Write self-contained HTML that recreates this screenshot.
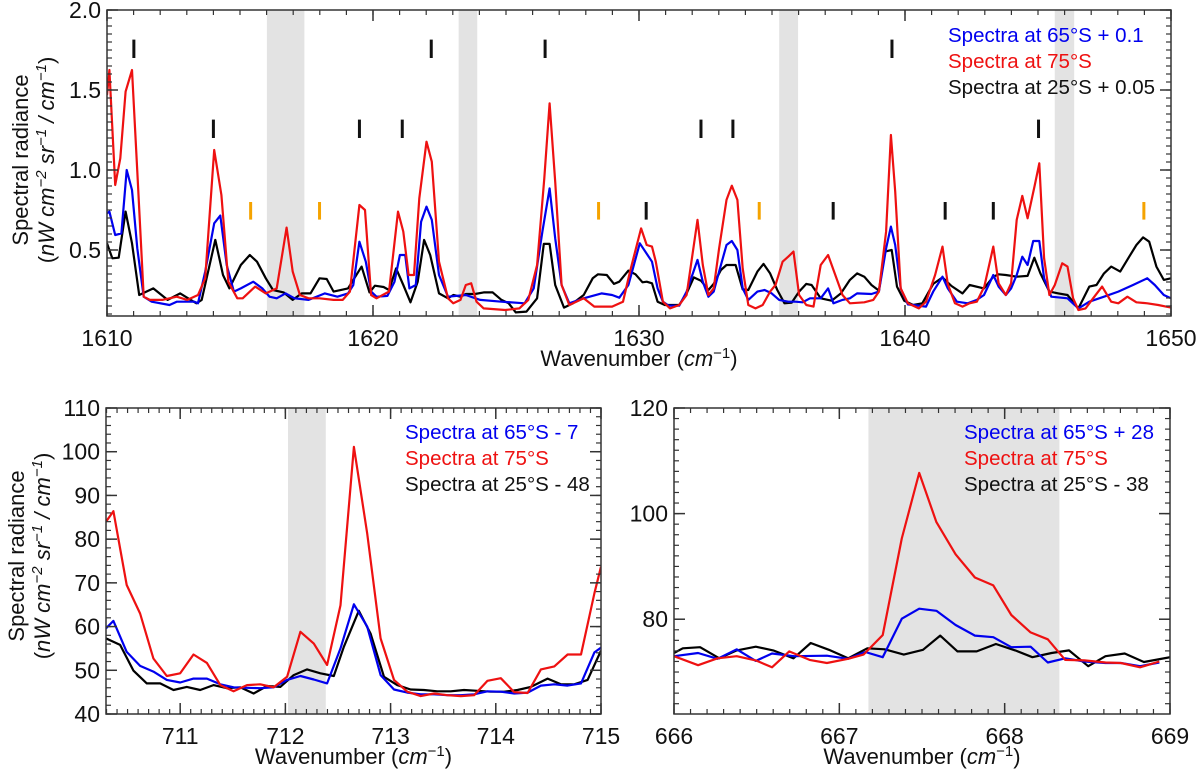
<!DOCTYPE html>
<html><head><meta charset="utf-8">
<style>
html,body{margin:0;padding:0;background:#fff;}
svg{display:block;font-family:"Liberation Sans","DejaVu Sans",sans-serif;}
</style></head>
<body>
<svg id="fig" width="1200" height="771" viewBox="0 0 1200 771" xmlns="http://www.w3.org/2000/svg"></svg>
<script>
// ---- Top panel data ----
const topRedX=[1610.00,1610.09,1610.31,1610.50,1610.70,1610.94,1611.14,1611.38,1611.61,1612.08,1612.62,1613.02,1613.42,1613.69,1614.03,1614.30,1614.56,1614.90,1615.10,1615.57,1615.97,1616.38,1616.75,1616.98,1617.25,1617.58,1617.99,1618.52,1618.86,1619.13,1619.49,1619.70,1619.93,1620.13,1620.60,1620.94,1621.14,1621.34,1621.54,1621.74,1622.01,1622.21,1622.48,1622.82,1623.02,1623.29,1623.49,1623.69,1623.89,1624.16,1624.97,1625.50,1625.84,1626.17,1626.44,1626.64,1626.85,1627.09,1627.38,1627.92,1628.32,1628.99,1629.40,1629.66,1630.08,1630.29,1630.49,1630.63,1630.90,1631.17,1631.51,1631.79,1632.20,1632.40,1632.61,1632.81,1633.01,1633.29,1633.49,1633.70,1633.90,1634.11,1634.38,1634.65,1634.93,1635.13,1635.40,1635.61,1635.81,1636.02,1636.29,1636.56,1636.83,1637.11,1637.38,1637.65,1637.93,1638.47,1638.81,1639.02,1639.29,1639.47,1639.63,1639.84,1640.11,1640.52,1640.79,1641.13,1641.41,1641.61,1641.88,1642.16,1642.43,1642.70,1642.98,1643.32,1643.52,1643.79,1643.99,1644.20,1644.41,1644.61,1644.88,1645.05,1645.23,1645.43,1645.63,1645.91,1646.11,1646.32,1646.52,1646.79,1647.07,1647.41,1647.75,1648.02,1648.36,1648.70,1649.11,1649.52,1650.00];
const topRedY=[1.469,1.625,0.906,1.073,1.490,1.625,0.990,0.208,0.188,0.188,0.208,0.188,0.219,0.323,1.125,0.844,0.302,0.198,0.198,0.271,0.229,0.260,0.640,0.365,0.219,0.198,0.198,0.188,0.188,0.240,0.781,0.750,0.219,0.198,0.240,0.740,0.615,0.344,0.344,0.823,1.177,1.052,0.427,0.198,0.167,0.188,0.281,0.292,0.177,0.135,0.125,0.135,0.188,0.406,0.948,1.417,0.927,0.281,0.156,0.198,0.146,0.146,0.177,0.365,0.635,0.531,0.521,0.427,0.177,0.135,0.156,0.219,0.688,0.406,0.219,0.260,0.510,0.813,0.902,0.813,0.385,0.156,0.135,0.156,0.240,0.281,0.427,0.458,0.490,0.219,0.156,0.146,0.406,0.469,0.344,0.219,0.167,0.173,0.188,0.240,0.615,1.219,0.865,0.260,0.167,0.135,0.177,0.344,0.521,0.286,0.167,0.146,0.167,0.177,0.271,0.521,0.292,0.219,0.292,0.688,0.838,0.698,0.906,1.042,0.448,0.219,0.281,0.417,0.396,0.198,0.125,0.135,0.198,0.271,0.177,0.167,0.208,0.173,0.167,0.156,0.140];
const topBlueX=[1610.00,1610.09,1610.31,1610.54,1610.74,1610.94,1611.14,1611.38,1611.68,1612.35,1612.62,1613.29,1613.42,1613.69,1614.03,1614.26,1614.50,1614.77,1615.03,1615.50,1615.84,1616.11,1616.38,1616.71,1617.05,1617.58,1618.19,1618.66,1619.06,1619.26,1619.49,1619.73,1619.93,1620.13,1620.54,1620.81,1621.01,1621.21,1621.37,1621.61,1621.81,1622.01,1622.21,1622.48,1622.82,1623.49,1624.03,1624.83,1625.70,1626.04,1626.37,1626.64,1626.85,1627.09,1627.38,1627.92,1628.59,1628.99,1629.26,1629.60,1630.03,1630.49,1630.70,1630.90,1631.11,1631.51,1631.79,1632.20,1632.40,1632.61,1632.81,1633.01,1633.29,1633.49,1633.70,1633.90,1634.11,1634.45,1634.72,1634.99,1635.27,1635.61,1635.88,1636.15,1636.43,1636.83,1637.11,1637.31,1637.65,1637.93,1638.20,1638.74,1639.02,1639.29,1639.47,1639.63,1639.84,1640.11,1640.79,1641.06,1641.41,1641.61,1641.95,1642.36,1642.70,1642.97,1643.32,1643.52,1643.79,1643.99,1644.20,1644.41,1644.61,1644.82,1645.05,1645.23,1645.50,1646.11,1646.52,1646.93,1647.48,1648.02,1648.57,1649.11,1649.39,1649.73,1650.00];
const topBlueY=[0.729,0.740,0.594,0.604,1.000,0.875,0.510,0.208,0.177,0.156,0.177,0.177,0.167,0.365,0.667,0.715,0.406,0.240,0.260,0.302,0.260,0.208,0.198,0.229,0.198,0.188,0.229,0.208,0.229,0.281,0.552,0.427,0.240,0.208,0.213,0.302,0.469,0.469,0.260,0.281,0.677,0.771,0.688,0.344,0.208,0.219,0.188,0.177,0.167,0.260,0.615,0.885,0.573,0.281,0.167,0.198,0.229,0.219,0.202,0.281,0.542,0.427,0.260,0.177,0.152,0.152,0.240,0.438,0.302,0.208,0.240,0.365,0.531,0.556,0.500,0.260,0.188,0.240,0.250,0.229,0.188,0.177,0.177,0.173,0.198,0.198,0.260,0.167,0.188,0.198,0.229,0.225,0.240,0.510,0.646,0.531,0.260,0.160,0.146,0.240,0.333,0.260,0.177,0.167,0.188,0.219,0.344,0.271,0.219,0.260,0.344,0.458,0.406,0.556,0.556,0.323,0.208,0.198,0.135,0.177,0.208,0.240,0.281,0.323,0.281,0.219,0.198];
const topBlackX=[1610.00,1610.20,1610.44,1610.70,1610.94,1611.21,1611.74,1612.28,1612.75,1613.15,1613.36,1613.56,1614.07,1614.36,1614.60,1615.03,1615.37,1615.64,1615.97,1616.24,1616.64,1616.98,1617.32,1617.65,1617.99,1618.26,1618.52,1619.06,1619.57,1619.87,1620.07,1620.40,1620.60,1620.87,1621.14,1621.41,1621.68,1621.92,1622.15,1622.48,1622.82,1623.02,1623.29,1623.49,1623.83,1624.16,1624.50,1624.83,1625.10,1625.37,1625.77,1626.17,1626.42,1626.64,1626.85,1627.18,1627.52,1627.92,1628.26,1628.46,1628.79,1629.06,1629.26,1629.60,1629.87,1630.13,1630.29,1630.49,1630.70,1630.97,1631.51,1631.79,1632.06,1632.33,1632.61,1632.81,1633.08,1633.29,1633.63,1633.90,1634.11,1634.45,1634.68,1634.93,1635.20,1635.47,1635.74,1636.02,1636.29,1636.49,1636.83,1637.24,1637.59,1637.93,1638.20,1638.47,1638.74,1639.02,1639.25,1639.50,1639.70,1639.97,1640.31,1640.65,1641.06,1641.41,1641.75,1642.16,1642.43,1642.97,1643.32,1643.52,1643.79,1644.20,1644.61,1644.86,1645.09,1645.43,1645.77,1646.11,1646.52,1646.93,1647.20,1647.48,1647.75,1648.09,1648.43,1648.70,1648.95,1649.18,1649.45,1649.73,1650.00];
const topBlackY=[0.542,0.448,0.452,0.740,0.542,0.219,0.260,0.188,0.229,0.188,0.167,0.188,0.563,0.344,0.260,0.406,0.469,0.427,0.323,0.250,0.235,0.188,0.229,0.229,0.323,0.319,0.240,0.260,0.396,0.235,0.277,0.269,0.250,0.385,0.281,0.173,0.302,0.563,0.469,0.229,0.198,0.219,0.208,0.225,0.225,0.235,0.235,0.188,0.167,0.110,0.115,0.198,0.538,0.538,0.281,0.140,0.167,0.219,0.323,0.348,0.344,0.288,0.302,0.371,0.348,0.298,0.302,0.292,0.177,0.156,0.156,0.229,0.329,0.308,0.250,0.288,0.375,0.406,0.406,0.254,0.250,0.365,0.413,0.354,0.250,0.167,0.171,0.240,0.288,0.281,0.198,0.183,0.229,0.313,0.354,0.333,0.281,0.246,0.490,0.500,0.271,0.183,0.156,0.167,0.288,0.329,0.275,0.229,0.281,0.260,0.333,0.348,0.344,0.333,0.338,0.452,0.354,0.240,0.229,0.219,0.135,0.271,0.281,0.354,0.396,0.365,0.458,0.531,0.579,0.552,0.396,0.313,0.323];
const topBandStart=[1616.01,1623.22,1635.27,1645.63];
const topBandEnd=[1617.42,1623.92,1635.98,1646.36];
const markHighX=[1611.01,1622.19,1626.47,1639.51];
const markMidX=[1614.0,1619.49,1621.1,1632.33,1633.53,1645.02];
const markLowX=[1630.27,1637.3,1641.51,1643.32];
const markOrangeX=[1615.4,1617.99,1628.48,1634.52,1648.98];
const topXTicks=[1610,1620,1630,1640,1650];
const topYTicks=[0.5,1.0,1.5,2.0];
const topYTickLabels=["0.5","1.0","1.5","2.0"];

// ---- Bottom-left (711-715) data ----
const blX=[710.295,710.365,710.492,710.619,710.746,710.873,711.0,711.127,711.254,711.381,711.508,711.635,711.762,711.889,712.016,712.143,712.27,712.397,712.524,712.651,712.778,712.905,713.032,713.159,713.286,713.413,713.54,713.667,713.794,713.921,714.048,714.175,714.302,714.429,714.556,714.683,714.81,714.937,715.0];
const blRedY=[84.0,86.4,69.5,63.0,52.7,48.7,49.3,53.6,51.7,46.6,45.2,46.6,46.8,46.1,48.5,58.8,56.1,51.2,64.9,101.1,81.3,57.3,47.8,45.1,44.1,44.7,44.3,44.1,44.3,47.6,48.2,45.0,44.8,50.2,50.9,53.6,53.6,67.6,73.7];
const blBlueY=[59.6,61.3,54.2,51.0,49.7,47.8,47.2,48.1,48.1,46.8,46.1,46.0,45.9,46.1,47.8,48.7,47.9,47.0,55.0,65.1,60.0,48.9,45.6,44.9,44.5,44.5,44.3,44.3,44.5,45.2,45.1,44.7,44.9,46.5,46.8,46.5,47.0,54.1,55.2];
const blBlackX=[710.295,710.429,710.556,710.683,710.81,710.937,711.063,711.19,711.317,711.444,711.571,711.698,711.825,711.952,712.079,712.206,712.333,712.46,712.556,712.698,712.81,712.937,713.063,713.19,713.317,713.444,713.571,713.698,713.825,713.952,714.079,714.206,714.333,714.492,714.619,714.746,714.873,715.0];
const blBlackY=[57.3,55.8,49.9,47.0,47.0,45.5,46.2,45.5,46.6,45.9,46.1,44.7,46.4,46.2,48.9,50.2,49.3,48.7,55.4,63.6,58.4,48.5,46.6,45.6,45.5,45.2,45.2,45.5,45.3,45.1,45.1,45.5,46.2,48.1,46.8,46.8,47.8,54.5];
const blBand=[712.025,712.384];
const blXTicks=[711,712,713,714,715];
const blYTicks=[40,50,60,70,80,90,100,110];

// ---- Bottom-right (666-669) data ----
const brRedX=[666.0,666.146,666.263,666.379,666.495,666.593,666.697,666.82,666.925,667.053,667.146,667.262,667.378,667.483,667.587,667.703,667.82,667.931,668.04,668.157,668.261,668.366,668.482,668.61,668.703,668.819,668.935];
const brRedY=[73.0,71.3,72.6,73.0,72.2,70.9,73.9,72.3,71.7,72.5,73.3,77.0,95.3,107.7,98.4,92.3,87.9,86.4,80.8,77.5,76.2,72.3,72.2,71.8,71.7,70.9,72.0];
const brBlueX=[666.0,666.146,666.263,666.379,666.495,666.593,666.727,666.925,667.053,667.157,667.262,667.378,667.483,667.587,667.703,667.82,667.931,668.04,668.157,668.261,668.366,668.482,668.61,668.703,668.819,668.935];
const brBlueY=[73.0,73.6,72.5,74.3,72.1,73.5,73.0,73.1,72.5,73.8,72.8,80.1,82.0,81.6,78.9,76.9,76.6,74.7,74.8,71.8,72.6,72.0,71.7,71.7,71.1,71.8];
const brBlackX=[666.0,666.053,666.158,666.274,666.379,666.495,666.6,666.723,666.827,666.937,667.053,667.169,667.274,667.39,667.506,667.61,667.715,667.831,667.947,668.064,668.168,668.284,668.389,668.505,668.61,668.726,668.842,669.0];
const brBlackY=[73.6,74.5,74.7,72.6,74.1,74.8,74.1,72.6,75.5,74.2,72.6,74.5,74.3,73.3,74.2,76.9,73.9,73.9,75.3,74.1,72.8,73.6,74.1,71.1,73.0,73.5,71.9,72.8];
const brBand=[667.176,668.331];
const brXTicks=[666,667,668,669];
const brYTicks=[80,100,120];

const NS="http://www.w3.org/2000/svg";
const svg=document.getElementById('fig');
function mk(tag,attrs,parent){const e=document.createElementNS(NS,tag);for(const k in attrs)e.setAttribute(k,attrs[k]);(parent||svg).appendChild(e);return e;}

function panel(name,box,xr,yr){
  const g=mk('g',{});
  
  
  const sx=v=>box.x0+(v-xr[0])/(xr[1]-xr[0])*(box.x1-box.x0);
  const sy=v=>box.y1-(v-yr[0])/(yr[1]-yr[0])*(box.y1-box.y0);
  const clipId='clip-'+name;
  const cp=mk('clipPath',{id:clipId},g);
  mk('rect',{x:box.x0,y:box.y0,width:box.x1-box.x0,height:box.y1-box.y0},cp);
  return {g,sx,sy,clipId,box,xr,yr};
}
function band(p,a,b,name){
  const r=mk('rect',{x:p.sx(a),y:p.box.y0,width:p.sx(b)-p.sx(a),height:p.box.y1-p.box.y0,fill:'#e3e3e3'},p.g);
  
  
}
function line(p,xs,ys,color,name){
  const d=xs.map((x,i)=>(i?'L':'M')+p.sx(x).toFixed(1)+','+p.sy(ys[i]).toFixed(1)).join('');
  const e=mk('path',{d:d,fill:'none',stroke:color,'stroke-width':2.2,'stroke-linejoin':'round','clip-path':'url(#'+p.clipId+')'},p.g);
  
  
}
function axes(p,xMaj,xMinStep,yMaj,yLabels,yMinStep){
  const b=p.box,g=p.g,c='#333';
  const fr=mk('rect',{x:b.x0,y:b.y0,width:b.x1-b.x0,height:b.y1-b.y0,fill:'none',stroke:c,'stroke-width':1.5},g);
  
  
  const eps=1e-6;
  for(let v=Math.ceil(p.xr[0]/xMinStep-eps)*xMinStep;v<=p.xr[1]+eps;v+=xMinStep){
    const x=p.sx(v);
    mk('line',{x1:x,x2:x,y1:b.y1,y2:b.y1-5,stroke:c,'stroke-width':1.2},g);
    mk('line',{x1:x,x2:x,y1:b.y0,y2:b.y0+5,stroke:c,'stroke-width':1.2},g);
  }
  for(let v=Math.ceil(p.yr[0]/yMinStep-eps)*yMinStep;v<=p.yr[1]+eps;v+=yMinStep){
    const y=p.sy(v);
    mk('line',{x1:b.x0,x2:b.x0+5,y1:y,y2:y,stroke:c,'stroke-width':1.2},g);
    mk('line',{x1:b.x1,x2:b.x1-5,y1:y,y2:y,stroke:c,'stroke-width':1.2},g);
  }
  xMaj.forEach(v=>{
    const x=p.sx(v);
    mk('line',{x1:x,x2:x,y1:b.y1,y2:b.y1-11,stroke:c,'stroke-width':1.5},g);
    mk('line',{x1:x,x2:x,y1:b.y0,y2:b.y0+11,stroke:c,'stroke-width':1.5},g);
    const t=mk('text',{x:x,y:b.y1+30,'text-anchor':'middle','font-size':23,fill:'#111'},g);
    t.textContent=String(v);
    
    
  });
  yMaj.forEach((v,i)=>{
    const y=p.sy(v);
    mk('line',{x1:b.x0,x2:b.x0+11,y1:y,y2:y,stroke:c,'stroke-width':1.5},g);
    mk('line',{x1:b.x1,x2:b.x1-11,y1:y,y2:y,stroke:c,'stroke-width':1.5},g);
    const t=mk('text',{x:b.x0-6,y:y+8,'text-anchor':'end','font-size':23,fill:'#111'},g);
    t.textContent=yLabels[i];
    
    
  });
  const xt=mk('text',{x:(b.x0+b.x1)/2,y:b.y1+50,'text-anchor':'middle','font-size':22,fill:'#111'},g);
  xt.innerHTML='Wavenumber (<tspan font-style="italic">cm</tspan><tspan dy="-8" font-size="15">−1</tspan><tspan dy="8">)</tspan>';
  
  
}
function ytitle(cx,cy){
  const g=mk('g',{transform:'translate('+cx+','+cy+') rotate(-90)'});
  
  
  const t1=mk('text',{x:0,y:0,'text-anchor':'middle','font-size':22,fill:'#111'},g);
  t1.textContent='Spectral radiance';
  const t2=mk('text',{x:0,y:26,'text-anchor':'middle','font-size':22,fill:'#111'},g);
  t2.innerHTML='(<tspan font-style="italic">nW cm</tspan><tspan dy="-8" font-size="15" font-style="italic">−2</tspan><tspan dy="8" font-style="italic"> sr</tspan><tspan dy="-8" font-size="15" font-style="italic">−1</tspan><tspan dy="8" font-style="italic"> / cm</tspan><tspan dy="-8" font-size="15" font-style="italic">−1</tspan><tspan dy="8">)</tspan>';
}
function legend(p,x,y0,labels,colors){
  const g=mk('g',{},p.g);
  
  
  labels.forEach((l,i)=>{
    const t=mk('text',{x:x,y:y0+i*26,'font-size':20.5,fill:colors[i]},g);
    t.textContent=l;
    
    
  });
}
function marks(p,xs,v0,v1,color,name){
  xs.forEach(x=>{
    const e=mk('line',{x1:p.sx(x),x2:p.sx(x),y1:p.sy(v0),y2:p.sy(v1),stroke:color,'stroke-width':3},p.g);
    
    
  });
}

// Top panel
const T=panel('top-panel',{x0:107,x1:1171,y0:10,y1:316},[1610,1650],[0.0875,2.0]);
topBandStart.forEach((a,i)=>band(T,a,topBandEnd[i],'masked-band'));
line(T,topBlackX,topBlackY,'#000','series-25s');
line(T,topBlueX,topBlueY,'#0000ee','series-65s');
line(T,topRedX,topRedY,'#ee1111','series-75s');
marks(T,markHighX,1.815,1.7,'#111','line-marker-high');
marks(T,markMidX,1.315,1.2,'#111','line-marker-mid');
marks(T,markLowX,0.80,0.69,'#111','line-marker-low');
marks(T,markOrangeX,0.80,0.69,'#f5a300','line-marker-orange');
axes(T,topXTicks,1,topYTicks,topYTickLabels,0.05);
legend(T,948,42,['Spectra at 65°S + 0.1','Spectra at 75°S','Spectra at 25°S + 0.05'],['#0000ee','#ee1111','#111']);
ytitle(28,160);

// Bottom-left panel
const L=panel('bottom-left-panel',{x0:106,x1:601,y0:408,y1:714},[710.295,715],[40,110]);
band(L,blBand[0],blBand[1],'masked-band');
line(L,blBlackX,blBlackY,'#000','series-25s');
line(L,blX,blBlueY,'#0000ee','series-65s');
line(L,blX,blRedY,'#ee1111','series-75s');
axes(L,blXTicks,0.1,blYTicks,blYTicks.map(String),2);
legend(L,405,439,['Spectra at 65°S - 7','Spectra at 75°S','Spectra at 25°S - 48'],['#0000ee','#ee1111','#111']);
ytitle(24,556);

// Bottom-right panel
const R=panel('bottom-right-panel',{x0:674,x1:1170,y0:408,y1:714},[666,669],[62.05,120]);
band(R,brBand[0],brBand[1],'masked-band');
line(R,brBlackX,brBlackY,'#000','series-25s');
line(R,brBlueX,brBlueY,'#0000ee','series-65s');
line(R,brRedX,brRedY,'#ee1111','series-75s');
axes(R,brXTicks,0.1,brYTicks,brYTicks.map(String),2);
legend(R,964,439,['Spectra at 65°S + 28','Spectra at 75°S','Spectra at 25°S - 38'],['#0000ee','#ee1111','#111']);
</script>
</body></html>
